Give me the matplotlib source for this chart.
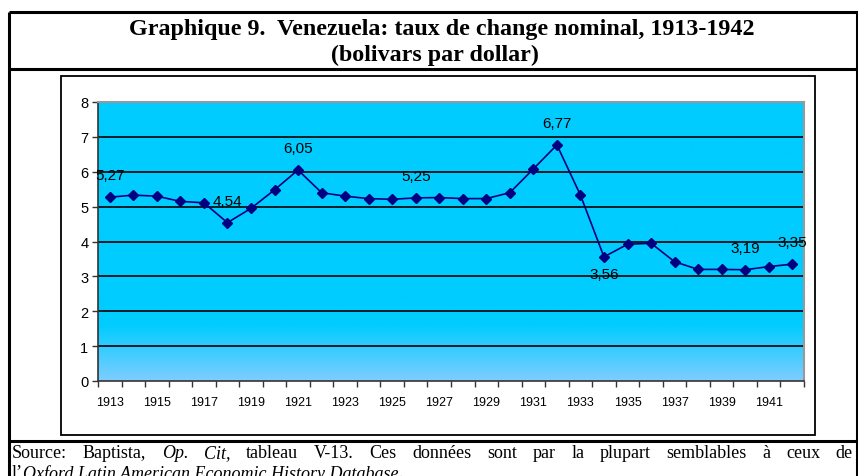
import matplotlib
matplotlib.use("Agg")
import matplotlib.pyplot as plt
import numpy as np
from matplotlib.colors import LinearSegmentedColormap

# ---- data ----
years = list(range(1913, 1943))
rates = [5.27, 5.33, 5.30, 5.15, 5.11, 4.54, 4.95, 5.48, 6.05, 5.40,
         5.30, 5.23, 5.21, 5.25, 5.26, 5.23, 5.23, 5.40, 6.08, 6.77,
         5.33, 3.56, 3.92, 3.95, 3.42, 3.20, 3.20, 3.19, 3.28, 3.35]
label_years = [1913, 1918, 1921, 1926, 1932, 1934, 1940, 1942]
label_below = [1934]
yticks = list(range(0, 9))

title1 = "Graphique 9.  Venezuela: taux de change nominal, 1913-1942"
title2 = "(bolivars par dollar)"
# (word, italic)
source1 = [("Source:", 0), ("Baptista,", 0), ("Op.", 1), ("Cit,", 1), ("tableau", 0),
           ("V-13.", 0), ("Ces", 0), ("données", 0), ("sont", 0), ("par", 0), ("la", 0),
           ("plupart", 0), ("semblables", 0), ("à", 0), ("ceux", 0), ("de", 0)]
source2 = [("l\u2019", 0), ("Oxford Latin American Economic History Database", 1), (".", 0)]

W, H = 858, 477
fig = plt.figure(figsize=(W / 100, H / 100), dpi=100)

# ---- frame (pixel coords) ----
bg = fig.add_axes([0, 0, 1, 1], zorder=0)
bg.set_xlim(0, W)
bg.set_ylim(H, 0)
bg.axis("off")
lk = dict(color="k", lw=2.2, solid_capstyle="butt")
bg.plot([9, W], [13, 13], **lk)
bg.plot([9, W], [70, 70], **lk)
bg.plot([9, W], [442, 442], **lk)
bg.plot([9, 9], [13, H], **lk)
bg.plot([W - 1, W - 1], [13, H], **lk)
bg.add_patch(plt.Rectangle((61, 77), 815 - 61, 436 - 77, fill=False,
                           ec="k", lw=1.3))
tk = dict(ha="center", va="center", fontsize=17.3, fontweight="bold",
          family="Liberation Serif")
bg.text(442, 29, title1, **tk)
bg.text(435, 55, title2, **tk)

# source note, justified like the original
renderer = fig.canvas.get_renderer()
sk = dict(va="center", fontsize=13, family="Liberation Serif")


def put_words(words, y, x0, x1=None, space=0):
    objs = []
    for w, it in words:
        objs.append(bg.text(0, y, w, style="italic" if it else "normal", **sk))
    widths = [o.get_window_extent(renderer).width for o in objs]
    if x1 is None:
        g = space
    else:
        g = (x1 - x0 - sum(widths)) / (len(objs) - 1)
    x = x0
    for o, w in zip(objs, widths):
        o.set_x(x)
        x += w + g


put_words(source1, 454, 12, 853)
put_words(source2, 474, 12)

# ---- chart ----
l, r, t, b = 98, 804, 103, 382
ax = fig.add_axes([l / W, (H - b) / H, (r - l) / W, (b - t) / H], zorder=1)
n = len(years)
x = np.arange(n)
ax.set_xlim(-0.5, n - 0.5)
ax.set_ylim(0, 8)

cmap = LinearSegmentedColormap.from_list("bgc", [(0, "#7fcdff"), (0.2, "#00ccff"), (1, "#00ccff")])
grad = np.linspace(0, 1, 256).reshape(-1, 1)
ax.imshow(grad, cmap=cmap, extent=(-0.5, n - 0.5, 0, 8), origin="lower",
          aspect="auto", zorder=0)

for yv in yticks[1:]:
    ax.axhline(yv, color="k", lw=1.2, zorder=1)

ax.plot(x, rates, color="#000080", lw=1.2, marker="D", ms=5.5, zorder=3)

for yr in label_years:
    i = years.index(yr)
    txt = f"{rates[i]:.2f}".replace(".", ",")
    dy = -17 if yr in label_below else 22
    ax.annotate(txt, (x[i], rates[i]), xytext=(0, dy), textcoords="offset pixels",
                ha="center", va="center", fontsize=11, family="Liberation Sans",
                zorder=4)

ax.set_yticks(yticks)
ax.set_yticklabels([str(v) for v in yticks], fontsize=10.5, family="Liberation Sans")
ax.set_xticks(np.arange(-0.5, n, 1.0))
ax.set_xticklabels([])
ax.set_xticks(x[::2], minor=True)
ax.set_xticklabels([str(y) for y in years[::2]], minor=True, fontsize=9,
                   family="Liberation Sans")
ax.tick_params(axis="x", which="major", direction="out", length=4, width=1, color="#333333")
ax.tick_params(axis="x", which="minor", length=0, pad=11)
ax.tick_params(axis="y", direction="out", length=4, width=1, color="#333333", pad=3)

for s in ["left", "bottom"]:
    ax.spines[s].set_color("#333333")
    ax.spines[s].set_linewidth(1.2)
for s in ["top", "right"]:
    ax.spines[s].set_color("#999999")
    ax.spines[s].set_linewidth(1.5)

fig.savefig("out.png", dpi=100)
